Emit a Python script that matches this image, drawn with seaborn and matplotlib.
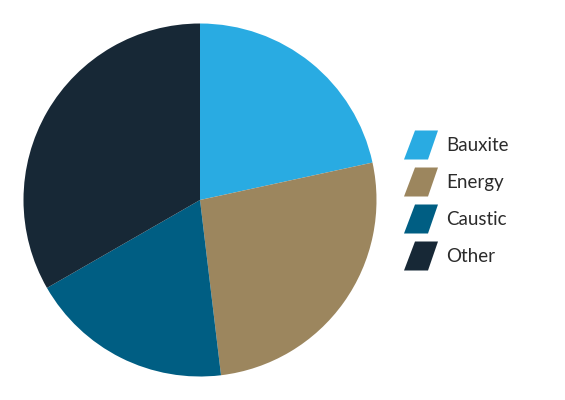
import matplotlib
matplotlib.use("Agg")
import matplotlib.pyplot as plt
import seaborn as sns
from matplotlib.patches import Polygon

sns.set_theme(style="white")
plt.rcParams['font.family'] = ['Lato', 'DejaVu Sans']

categories = ["Bauxite", "Energy", "Caustic", "Other"]
values = [21.6, 26.5, 18.6, 33.3]
colors = ["#29ABE2", "#9C865E", "#005E83", "#172836"]

W, H = 565, 400
fig = plt.figure(figsize=(W / 100, H / 100), dpi=100)
fig.patch.set_facecolor("white")
cx, cy, r = 200, 200, 176.5
ax = fig.add_axes([(cx - r) / W, (H - cy - r) / H, 2 * r / W, 2 * r / H])
ax.pie(values, colors=colors, startangle=90, counterclock=False,
       wedgeprops=dict(linewidth=0))
ax.set_xlim(-1, 1)
ax.set_ylim(-1, 1)
ax.set_aspect("equal")
ax.axis("off")

# legend (pixel coordinates, top-left origin)
row0, step = 145, 37
for i, (cat, col) in enumerate(zip(categories, colors)):
    yc = row0 + i * step
    top, bot = yc - 14.5, yc + 14.5
    pts = [(404, bot), (428, bot), (438, top), (415, top)]
    pts = [(x / W, 1 - y / H) for x, y in pts]
    fig.patches.append(Polygon(pts, closed=True, facecolor=col, edgecolor="none",
                               transform=fig.transFigure, figure=fig))
    fig.text(446 / W, 1 - (yc + 0.5) / H, cat, fontsize=13.5, color="#2b2b2b",
             va="center", ha="left")

fig.savefig("out.png", dpi=100)
